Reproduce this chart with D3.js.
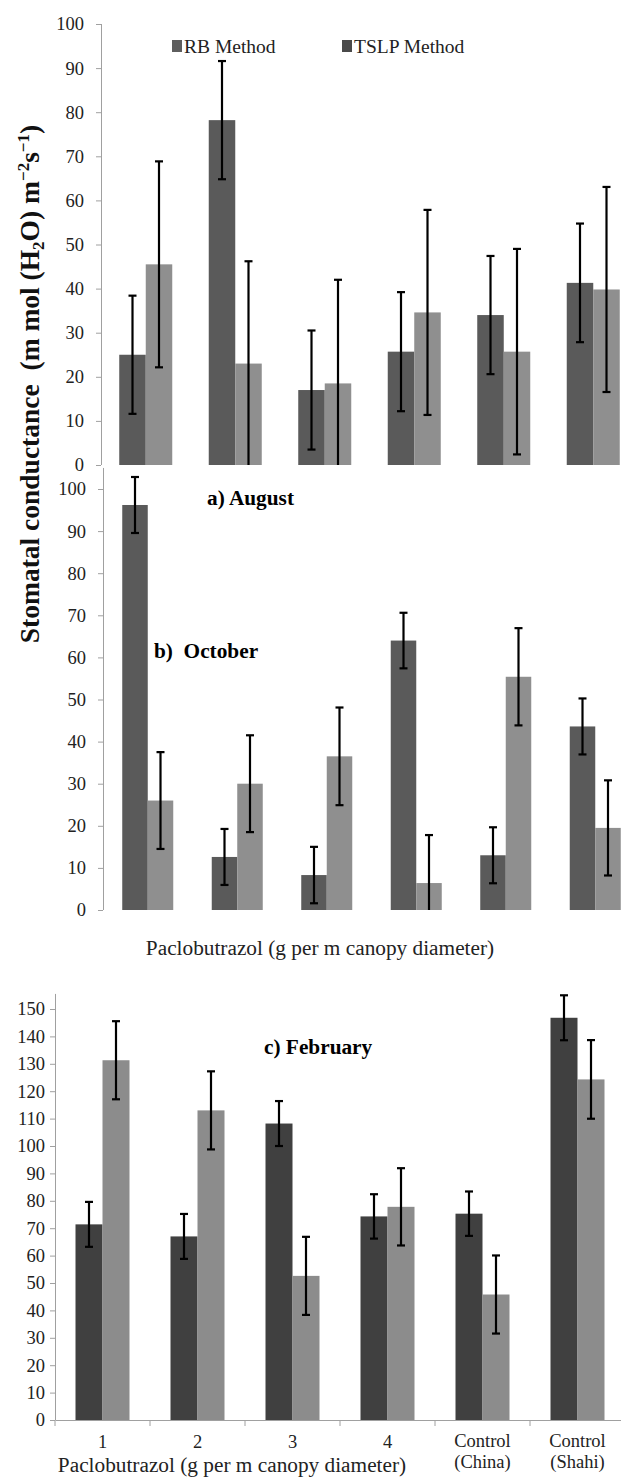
<!DOCTYPE html>
<html>
<head>
<meta charset="utf-8">
<script src="https://cdn.jsdelivr.net/npm/d3@7"></script>
<style>
  body { margin: 0; background: #fff; }
</style>
</head>
<body>
<div id="chart"></div>
<script>
// categories and series
var categories = ["1", "2", "3", "4", "Control|(China)", "Control|(Shahi)"];
var seriesNames = ["RB Method", "TSLP Method"];

// a) August
var augRB      = [25, 78.2, 17, 25.7, 34, 41.3];
var augRBErr   = [13.4, 13.4, 13.5, 13.5, 13.4, 13.45];
var augTSLP    = [45.5, 23, 18.5, 34.6, 25.7, 39.8];
var augTSLPErr = [23.35, 23.2, 23.5, 23.25, 23.3, 23.25];

// b) October
var octRB      = [96.2, 12.6, 8.3, 64, 13, 43.6];
var octRBErr   = [6.65, 6.65, 6.7, 6.6, 6.65, 6.65];
var octTSLP    = [26, 30, 36.5, 6.4, 55.4, 19.5];
var octTSLPErr = [11.5, 11.5, 11.6, 11.4, 11.55, 11.3];

// c) February
var febRB      = [71.4, 67, 108.2, 74.3, 75.3, 146.8];
var febRBErr   = [8.2, 8.2, 8.2, 8.1, 8.1, 8.2];
var febTSLP    = [131.3, 113, 52.6, 77.8, 45.8, 124.3];
var febTSLPErr = [14.25, 14.25, 14.25, 14.1, 14.25, 14.35];

var ticksAB = [0, 10, 20, 30, 40, 50, 60, 70, 80, 90, 100];
var ticksC  = [0, 10, 20, 30, 40, 50, 60, 70, 80, 90, 100, 110, 120, 130, 140, 150];

var width = 621, height = 1477;
var axisGrey = "#a0a0a0";
var serif = "Liberation Serif, Times New Roman, serif";

var svg = d3.select("#chart").append("svg")
    .attr("width", width)
    .attr("height", height)
    .attr("font-family", serif);

svg.append("rect").attr("width", width).attr("height", height).attr("fill", "#fff");

function drawPanel(p) {
  var rows = categories.map(function(c, i) {
    return {cat: c, vals: [
      {s: seriesNames[0], v: p.rb[i], e: p.rbErr[i]},
      {s: seriesNames[1], v: p.tslp[i], e: p.tslpErr[i]}
    ]};
  });

  var x = d3.scaleBand().domain(categories).range(p.xRange).paddingInner(0).paddingOuter(0);
  var xs = d3.scaleBand().domain(seriesNames).range([0, p.groupW]);
  var y = d3.scaleLinear().domain([0, p.yMax]).range(p.yRange);

  var g = svg.append("g");

  // y axis
  var ya = g.append("g")
      .attr("transform", "translate(" + p.xRange[0] + ",0)")
      .call(d3.axisLeft(y).tickValues(p.ticks).tickSize(5).tickPadding(p.tickPad).tickSizeOuter(0))
      .attr("font-family", serif);
  ya.select(".domain").attr("stroke", axisGrey).attr("d", "M0.5," + y(p.axisTop) + "V" + y(0));
  ya.selectAll(".tick line").attr("stroke", axisGrey);
  ya.selectAll(".tick text").style("font-family", serif).style("font-size", "18.5px").attr("fill", "#222");

  if (p.xAxis) {
    var xa = g.append("g")
        .attr("transform", "translate(0," + y(0) + ")")
        .call(d3.axisBottom(x).tickSize(0).tickFormat(""));
    xa.select(".domain").attr("stroke", axisGrey);
    var bounds = d3.range(categories.length + 1).map(function(i) { return p.xRange[0] + i * x.step(); });
    xa.selectAll(".bnd").data(bounds).enter().append("line")
        .attr("x1", function(d) { return d; }).attr("x2", function(d) { return d; })
        .attr("y1", 0).attr("y2", 6).attr("stroke", axisGrey);
    var lab = xa.selectAll(".cat").data(categories).enter().append("text")
        .attr("x", function(d) { return x(d) + x.bandwidth() / 2; })
        .attr("text-anchor", "middle")
        .style("font-family", serif)
        .style("font-size", "18.5px")
        .attr("fill", "#222");
    lab.each(function(d) {
      var parts = d.split("|");
      var t = d3.select(this);
      if (parts.length === 1) {
        t.attr("y", 28).text(d);
      } else {
        t.append("tspan").attr("x", x(d) + x.bandwidth() / 2).attr("y", 27).text(parts[0]);
        t.append("tspan").attr("x", x(d) + x.bandwidth() / 2).attr("y", 48).text(parts[1]);
      }
    });
  }

  var grp = g.selectAll(".grp").data(rows).enter().append("g")
      .attr("transform", function(d) { return "translate(" + (x(d.cat) + (x.bandwidth() - p.groupW) / 2) + ",0)"; });

  grp.selectAll("rect").data(function(d) { return d.vals; }).enter().append("rect")
      .attr("x", function(d) { return xs(d.s); })
      .attr("y", function(d) { return y(d.v); })
      .attr("width", xs.bandwidth())
      .attr("height", function(d) { return y(0) - y(d.v); })
      .attr("fill", function(d, i) { return p.colors[i]; });

  // error bars
  var eb = grp.selectAll(".eb").data(function(d) { return d.vals; }).enter().append("g")
      .attr("transform", function(d) { return "translate(" + (xs(d.s) + xs.bandwidth() / 2) + ",0)"; });
  eb.append("line")
      .attr("y1", function(d) { return y(d.v + d.e); })
      .attr("y2", function(d) { return y(Math.max(0, d.v - d.e)); })
      .attr("stroke", "#000").attr("stroke-width", 2.2);
  eb.append("line")
      .attr("x1", -4).attr("x2", 4)
      .attr("y1", function(d) { return y(d.v + d.e); })
      .attr("y2", function(d) { return y(d.v + d.e); })
      .attr("stroke", "#000").attr("stroke-width", 2.2);
  eb.filter(function(d) { return d.v - d.e > 0; }).append("line")
      .attr("x1", -4).attr("x2", 4)
      .attr("y1", function(d) { return y(d.v - d.e); })
      .attr("y2", function(d) { return y(d.v - d.e); })
      .attr("stroke", "#000").attr("stroke-width", 2.2);

  // panel label
  g.append("text")
      .attr("x", p.label[1]).attr("y", p.label[2])
      .style("font-family", serif)
      .attr("font-weight", "bold").attr("font-size", 21.3)
      .style("white-space", "pre")
      .text(p.label[0]);
}

drawPanel({
  rb: augRB, rbErr: augRBErr, tslp: augTSLP, tslpErr: augTSLPErr,
  xRange: [101, 638], groupW: 53, yRange: [465, 24], yMax: 100, axisTop: 100,
  ticks: ticksAB, tickPad: 12, colors: ["#5a5a5a", "#8f8f8f"], xAxis: false,
  label: ["a) August", 207, 505]
});

drawPanel({
  rb: octRB, rbErr: octRBErr, tslp: octTSLP, tslpErr: octTSLPErr,
  xRange: [103, 640], groupW: 51, yRange: [910, 489], yMax: 100, axisTop: 105,
  ticks: ticksAB, tickPad: 12, colors: ["#5a5a5a", "#8f8f8f"], xAxis: false,
  label: ["b)  October", 154, 658]
});

drawPanel({
  rb: febRB, rbErr: febRBErr, tslp: febTSLP, tslpErr: febTSLPErr,
  xRange: [55, 625], groupW: 54, yRange: [1420, 1009], yMax: 150, axisTop: 155.5,
  ticks: ticksC, tickPad: 5, colors: ["#404040", "#8c8c8c"], xAxis: true,
  label: ["c) February", 264, 1054]
});

// legend (top panel)
var legend = svg.append("g");
var legX = [172, 342], legColors = ["#5e5e5e", "#4a4a4a"];
seriesNames.forEach(function(s, i) {
  legend.append("rect").attr("x", legX[i]).attr("y", 40).attr("width", 10).attr("height", 12).attr("fill", legColors[i]);
  legend.append("text").attr("x", legX[i] + 12).attr("y", 53)
      .style("font-family", serif).attr("font-size", 19.5).attr("fill", "#222").text(s);
});

// x-axis titles
svg.append("text").attr("x", 320).attr("y", 955).attr("text-anchor", "middle")
    .style("font-family", serif).attr("font-size", 21.3).attr("fill", "#222")
    .text("Paclobutrazol (g per m canopy diameter)");
svg.append("text").attr("x", 232).attr("y", 1472).attr("text-anchor", "middle")
    .style("font-family", serif).attr("font-size", 21.3).attr("fill", "#222")
    .text("Paclobutrazol (g per m canopy diameter)");

// y-axis title, rotated
var yt = svg.append("text")
    .attr("transform", "translate(39,384) rotate(-90)")
    .attr("text-anchor", "middle")
    .style("font-family", serif)
    .attr("font-weight", "bold").attr("font-size", 27.5)
    .style("white-space", "pre")
    .attr("fill", "#111");
yt.append("tspan").text("Stomatal conductance  (m mol (H");
yt.append("tspan").attr("dy", 5).attr("font-size", 17).text("2");
yt.append("tspan").attr("dy", -5).text("O) m");
yt.append("tspan").attr("dy", -10).attr("font-size", 17).text("\u22122");
yt.append("tspan").attr("dy", 10).text("s");
yt.append("tspan").attr("dy", -10).attr("font-size", 17).text("\u22121");
yt.append("tspan").attr("dy", 10).text(")");
</script>
</body>
</html>
